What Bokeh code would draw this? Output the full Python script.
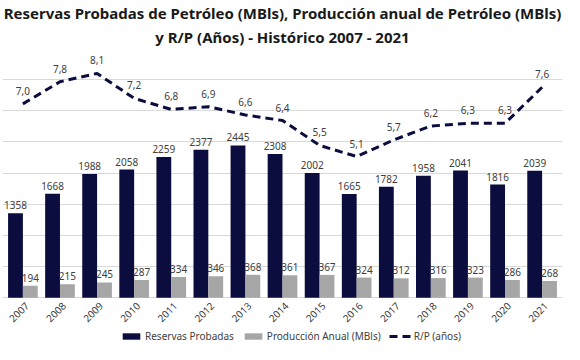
import math
from bokeh.plotting import figure
from bokeh.models import (Range1d, ColumnDataSource, LabelSet, Legend, LegendItem,
                          Title, FixedTicker)
from bokeh.transform import dodge
from bokeh.embed import file_html
from bokeh.resources import INLINE
from bokeh.core.properties import value

years = ["2007", "2008", "2009", "2010", "2011", "2012", "2013", "2014",
         "2015", "2016", "2017", "2018", "2019", "2020", "2021"]
reservas = [1358, 1668, 1988, 2058, 2259, 2377, 2445, 2308, 2002, 1665, 1782, 1958, 2041, 1816, 2039]
produccion = [194, 215, 245, 287, 334, 346, 368, 361, 367, 324, 312, 316, 323, 286, 268]
rp = [7.0, 7.8, 8.1, 7.2, 6.8, 6.9, 6.6, 6.4, 5.5, 5.1, 5.7, 6.2, 6.3, 6.3, 7.6]
grid_values = list(range(0, 4001, 500))

FONT = "Noto Sans"
NAVY = "#0C0D3F"
GRAY = "#A6A6A6"
TXT = "#404040"

Y_MAX, Y_LOW = 4000, -750
RP_MAX = 9
RP_LOW = Y_LOW * RP_MAX / Y_MAX

src = ColumnDataSource(dict(
    x=list(range(len(years))),
    zero=[0] * len(years),
    year=years,
    reservas=reservas,
    produccion=produccion,
    rp=rp,
    res_lbl=[str(v) for v in reservas],
    prod_lbl=[str(v) for v in produccion],
    rp_lbl=[f"{v:.1f}".replace(".", ",") for v in rp],
))

p = figure(width=564, height=344, x_range=Range1d(-0.55, len(years) - 0.45),
           y_range=Range1d(Y_LOW, Y_MAX), output_backend="svg", toolbar_location=None,
           min_border_left=2, min_border_right=2, min_border_top=2, min_border_bottom=0,
           outline_line_color=None)
p.extra_y_ranges = {"rp": Range1d(RP_LOW, RP_MAX)}

p.yaxis.visible = False
p.xaxis.visible = False
p.xgrid.visible = False
p.ygrid.ticker = FixedTicker(ticks=grid_values)
p.ygrid.grid_line_color = "#D9D9D9"
p.ygrid.grid_line_width = 1

r1 = p.vbar(x=dodge("x", -0.2), top="reservas", width=0.4, source=src,
            fill_color=NAVY, line_color=None)
r2 = p.vbar(x=dodge("x", 0.2), top="produccion", width=0.4, source=src,
            fill_color=GRAY, line_color=None)
r3 = p.line(x="x", y="rp", y_range_name="rp", source=src, line_color=NAVY,
            line_width=3, line_dash="8 5")

common = dict(text_align="center", text_font=value(FONT), text_font_size="10px",
              text_color=TXT, source=src)
p.add_layout(LabelSet(x=dodge("x", -0.2), y="reservas", text="res_lbl",
                      y_offset=4, **common))
p.add_layout(LabelSet(x=dodge("x", 0.2), y="produccion", text="prod_lbl",
                      y_offset=4, **common))
p.add_layout(LabelSet(x="x", y="rp", y_range_name="rp", text="rp_lbl",
                      y_offset=9, **common))

# year (category) labels, rotated like the original axis
p.add_layout(LabelSet(x="x", y="zero", text="year", angle=math.pi / 4,
                      text_align="right", text_baseline="middle",
                      x_offset=4, y_offset=-6, text_font=value(FONT),
                      text_font_size="10px", text_color=TXT, source=src))

legend = Legend(items=[LegendItem(label="Reservas Probadas", renderers=[r1]),
                       LegendItem(label="Producción Anual (MBls)", renderers=[r2]),
                       LegendItem(label="R/P (años)", renderers=[r3])],
                orientation="horizontal", location=(118, 1), border_line_color=None,
                background_fill_alpha=0,
                label_text_font=FONT, label_text_font_size="10px",
                label_text_color=TXT, glyph_width=22, glyph_height=8,
                label_height=12, spacing=8, padding=2, margin=0, label_standoff=3)
p.add_layout(legend, "center")

p.add_layout(Title(text="y R/P (Años) - Histórico 2007 - 2021", align="center",
                   text_font=FONT, text_font_size="15px", text_font_style="bold",
                   text_color="#1A1A1A", standoff=4), "above")
p.add_layout(Title(text="Reservas Probadas de Petróleo (MBls), Producción anual de Petróleo (MBls)",
                   align="center", text_font=FONT, text_font_size="15px",
                   text_font_style="bold", text_color="#1A1A1A", standoff=0), "above")

open("out.html", "w").write(file_html(p, INLINE))
